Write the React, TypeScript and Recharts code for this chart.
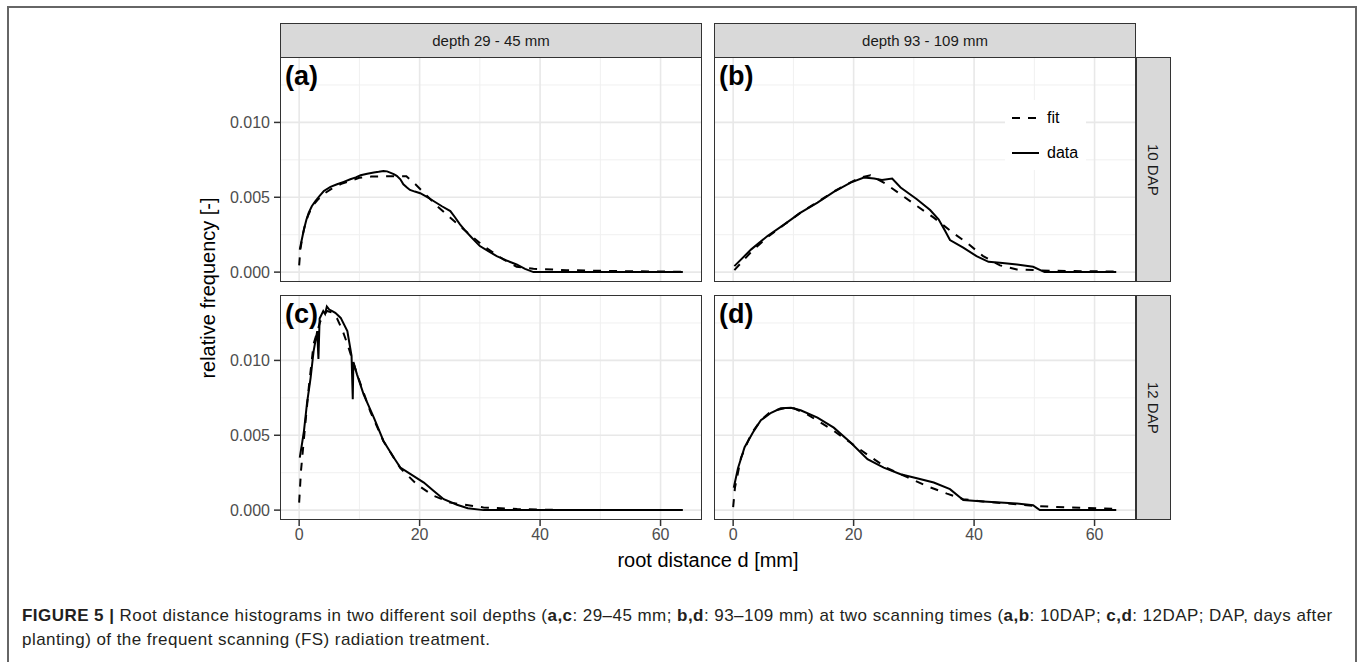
import React from 'react'
import { LineChart, Line, XAxis, YAxis, ReferenceLine, Legend } from 'recharts'

const FONT = '"Liberation Sans", Arial, Helvetica, sans-serif'

// axis set-up
const X_DOMAIN = [-3.18, 66.88]
const Y_DOMAIN = [-0.00066, 0.01437]
const X_TICKS = [0, 20, 40, 60]
const X_MINOR = [10, 30, 50]
const Y_TICKS = [0, 0.005, 0.01]
const Y_MINOR = [0.0025, 0.0075, 0.0125]

const COL_LABELS = ['depth 29 - 45 mm', 'depth 93 - 109 mm']
const ROW_LABELS = ['10 DAP', '12 DAP']
const PANEL_LABELS = ['(a)', '(b)', '(c)', '(d)']
const LEGEND_ORDER = ['fit', 'data']

// (a) depth 29-45 mm, 10 DAP
const A_DATA_X = [0.1, 0.4, 0.8, 1.2, 1.6, 2.1, 2.7, 3.4, 4.1, 5.2, 6.3, 7.4, 8.5, 9.4, 10.2, 11.3, 12.4, 13.2, 14.0, 14.6, 15.1, 15.7, 16.2, 16.8, 17.3, 17.9, 18.4, 19.2, 20.1, 21.2, 22.3, 23.7, 25.1, 25.9, 26.7, 27.5, 28.4, 29.2, 30.0, 31.4, 32.8, 34.4, 36.1, 37.5, 38.9, 45, 55, 63.7]
const A_DATA_Y = [0.0015, 0.0021, 0.00286, 0.0035, 0.00397, 0.0044, 0.00475, 0.0051, 0.00542, 0.0057, 0.00587, 0.00603, 0.0062, 0.00633, 0.00647, 0.00657, 0.00665, 0.0067, 0.00676, 0.00673, 0.00665, 0.00655, 0.00643, 0.0062, 0.00587, 0.00565, 0.00549, 0.00538, 0.00527, 0.00503, 0.00475, 0.0044, 0.00408, 0.00365, 0.00319, 0.0028, 0.00241, 0.00207, 0.00174, 0.0014, 0.00107, 0.00078, 0.00051, 0.00022, 0, 0, 0, 0]
const A_FIT_X = [0, 0.2, 0.6, 1.0, 1.5, 2.2, 3.0, 4.0, 5.5, 7.0, 8.5, 10.0, 12.0, 14.0, 16.0, 17.8, 19.3, 20.7, 22.9, 25.1, 27.3, 30.6, 33.9, 36.1, 38.9, 44.4, 52.7, 63.7]
const A_FIT_Y = [0.00045, 0.0015, 0.0025, 0.0032, 0.0038, 0.0044, 0.0048, 0.0052, 0.0056, 0.0059, 0.0061, 0.0063, 0.00638, 0.0064, 0.0064, 0.0064, 0.00587, 0.00531, 0.00442, 0.00364, 0.00286, 0.00174, 0.00085, 0.00036, 0.00022, 0.00013, 0.00007, 0.00002]

// (b) depth 93-109 mm, 10 DAP
const B_DATA_X = [0.2, 3.0, 5.7, 8.5, 11.2, 14.0, 16.7, 19.5, 21.7, 23.4, 24.7, 26.4, 27.8, 30.5, 32.7, 34.1, 35.2, 36.0, 38.2, 40.4, 42.4, 44.3, 47.1, 49.8, 51.7, 57, 63.6]
const B_DATA_Y = [0.0004, 0.00152, 0.00241, 0.00319, 0.00397, 0.00464, 0.00536, 0.00598, 0.00632, 0.00625, 0.00616, 0.00625, 0.00565, 0.00487, 0.00415, 0.00353, 0.00275, 0.00214, 0.00163, 0.00107, 0.00069, 0.00063, 0.00051, 0.00036, 0, 0, 0]
const B_FIT_X = [0.2, 3.0, 5.7, 8.5, 11.2, 14.0, 16.7, 19.5, 21.2, 22.8, 25.0, 27.8, 30.5, 33.3, 36.6, 38.8, 41.5, 44.3, 47.1, 52.6, 63.6]
const B_FIT_Y = [0.00013, 0.00135, 0.00235, 0.00318, 0.00398, 0.00468, 0.00538, 0.006, 0.00632, 0.00647, 0.00598, 0.0052, 0.00442, 0.00364, 0.00259, 0.00196, 0.00107, 0.00045, 0.00018, 0.00009, 0.00004]

// (c) depth 29-45 mm, 12 DAP
const C_DATA_X = [0.1, 0.5, 0.8, 1.3, 1.9, 2.4, 3.0, 3.2, 3.4, 4.0, 4.3, 4.6, 5.0, 5.5, 6.0, 6.9, 8.0, 8.7, 8.9, 9.0, 9.6, 10.7, 12.4, 14.0, 15.7, 16.8, 18.5, 20.7, 22.3, 24.0, 26.2, 28.0, 30.6, 40, 50, 63.7]
const C_DATA_Y = [0.00351, 0.0045, 0.0053, 0.00713, 0.00884, 0.01062, 0.01196, 0.0101, 0.0128, 0.0133, 0.0131, 0.0136, 0.0134, 0.0133, 0.01318, 0.01284, 0.01196, 0.0103, 0.0074, 0.0099, 0.00907, 0.00773, 0.00618, 0.00462, 0.00351, 0.00284, 0.0024, 0.00184, 0.00129, 0.00073, 0.00036, 0.00012, 0, 0, 0, 0]
const C_FIT_X = [0, 0.3, 0.8, 1.6, 2.4, 3.5, 4.6, 5.5, 6.3, 7.2, 8.0, 9.6, 11.8, 14.0, 16.8, 19.6, 22.3, 25.1, 30.6, 36.2, 41.7, 50, 63.7]
const C_FIT_Y = [0.0005, 0.0026, 0.0048, 0.0082, 0.0111, 0.0126, 0.0133, 0.0132, 0.0128, 0.012, 0.0111, 0.0091, 0.0066, 0.0046, 0.0028, 0.0017, 0.00096, 0.0005, 0.00018, 0.00007, 0.00002, 0, 0]

// (d) depth 93-109 mm, 12 DAP
const D_DATA_X = [0.1, 0.8, 1.9, 3.3, 4.6, 6.3, 7.9, 9.6, 11.2, 14.0, 16.7, 19.5, 22.3, 25.0, 27.8, 30.5, 33.3, 36.0, 38.2, 41.5, 44.3, 47.1, 49.8, 50.9, 57, 63.6]
const D_DATA_Y = [0.0015, 0.0028, 0.0042, 0.0052, 0.006, 0.0065, 0.0068, 0.00684, 0.00667, 0.00618, 0.00551, 0.00451, 0.0034, 0.00284, 0.0024, 0.00213, 0.00184, 0.0014, 0.00067, 0.00058, 0.00051, 0.00044, 0.00033, 0, 0, 0]
const D_FIT_X = [0, 0.3, 1.3, 3.0, 4.6, 6.3, 8.5, 10.1, 12.3, 16.7, 19.5, 22.3, 25.6, 28.9, 32.2, 35.5, 38.2, 41.5, 49.8, 55.3, 63.6]
const D_FIT_Y = [0.0002, 0.0015, 0.0035, 0.0051, 0.006, 0.0066, 0.0068, 0.0068, 0.0064, 0.0053, 0.0045, 0.0037, 0.0028, 0.0022, 0.0016, 0.0011, 0.00073, 0.00058, 0.00029, 0.00018, 0.00009]

const zip = (xs: number[], ys: number[]) => xs.map((x, i) => ({ x, y: ys[i] }))

const PANELS = [
  { fit: zip(A_FIT_X, A_FIT_Y), data: zip(A_DATA_X, A_DATA_Y) },
  { fit: zip(B_FIT_X, B_FIT_Y), data: zip(B_DATA_X, B_DATA_Y) },
  { fit: zip(C_FIT_X, C_FIT_Y), data: zip(C_DATA_X, C_DATA_Y) },
  { fit: zip(D_FIT_X, D_FIT_Y), data: zip(D_DATA_X, D_DATA_Y) },
]

const PANEL_W = 422
const PANEL_H = 225
const COL_LEFT = [280, 714]
const ROW_TOP = [57, 295]
const Y_AXIS_W = 60
const X_AXIS_H = 32
const DASH = '8 8'

const tickStyle = { fontSize: 16, fill: '#4d4d4d', fontFamily: FONT }

function renderLegend(props: any) {
  const payload = [...(props.payload || [])].sort(
    (a: any, b: any) => LEGEND_ORDER.indexOf(a.value) - LEGEND_ORDER.indexOf(b.value)
  )
  return (
    <div style={{ background: '#fff', padding: '0 8px 0 7px', fontFamily: FONT }}>
      {payload.map((entry: any) => {
        const dash = entry.payload?.strokeDasharray ?? (entry.value === 'fit' ? DASH : undefined)
        return (
          <div key={entry.value} style={{ display: 'flex', alignItems: 'center', height: 35 }}>
            <svg width={27} height={4} style={{ display: 'block' }}>
              <line x1={0} y1={2} x2={27} y2={2} stroke="#000" strokeWidth={2} strokeDasharray={dash} />
            </svg>
            <span style={{ marginLeft: 8, fontSize: 16, color: '#000' }}>{entry.value}</span>
          </div>
        )
      })}
    </div>
  )
}

function Panel({ idx }: { idx: number }) {
  const row = Math.floor(idx / 2)
  const col = idx % 2
  const showY = col === 0
  const showX = row === 1
  const yw = showY ? Y_AXIS_W : 0
  const xh = showX ? X_AXIS_H : 0
  const left = COL_LEFT[col]
  const top = ROW_TOP[row]
  const p = PANELS[idx]
  return (
    <>
      <div style={{ position: 'absolute', left: left - yw, top }}>
        <LineChart width={PANEL_W + yw} height={PANEL_H + xh} margin={{ top: 0, right: 0, bottom: 0, left: 0 }}>
          <XAxis
            type="number"
            dataKey="x"
            domain={X_DOMAIN}
            allowDataOverflow
            ticks={X_TICKS}
            interval={0}
            hide={!showX}
            height={X_AXIS_H}
            axisLine={false}
            tickSize={6}
            tickMargin={3}
            tickLine={{ stroke: '#333', strokeWidth: 1.5 }}
            tick={tickStyle}
          />
          <YAxis
            type="number"
            dataKey="y"
            domain={Y_DOMAIN}
            allowDataOverflow
            ticks={Y_TICKS}
            interval={0}
            hide={!showY}
            width={Y_AXIS_W}
            axisLine={false}
            tickSize={6}
            tickMargin={4}
            tickLine={{ stroke: '#333', strokeWidth: 1.5 }}
            tick={tickStyle}
            tickFormatter={(v: number) => v.toFixed(3)}
          />
          {X_MINOR.map((v) => (
            <ReferenceLine key={'xm' + v} x={v} stroke="#f0f0f0" strokeWidth={1} />
          ))}
          {Y_MINOR.map((v) => (
            <ReferenceLine key={'ym' + v} y={v} stroke="#f0f0f0" strokeWidth={1} />
          ))}
          {X_TICKS.map((v) => (
            <ReferenceLine key={'x' + v} x={v} stroke="#e8e8e8" strokeWidth={1.6} />
          ))}
          {Y_TICKS.map((v) => (
            <ReferenceLine key={'y' + v} y={v} stroke="#e8e8e8" strokeWidth={1.6} />
          ))}
          <Line
            data={p.fit}
            dataKey="y"
            name="fit"
            type="linear"
            stroke="#000"
            strokeWidth={2}
            strokeDasharray={DASH}
            dot={false}
            activeDot={false}
            isAnimationActive={false}
          />
          <Line
            data={p.data}
            dataKey="y"
            name="data"
            type="linear"
            stroke="#000"
            strokeWidth={2}
            dot={false}
            activeDot={false}
            isAnimationActive={false}
          />
          {idx === 1 && (
            <Legend
              layout="vertical"
              align="center"
              verticalAlign="middle"
              content={renderLegend}
              wrapperStyle={{ left: 291, top: 43, width: 'auto' }}
            />
          )}
        </LineChart>
      </div>
      <div
        style={{
          position: 'absolute',
          left,
          top,
          width: PANEL_W,
          height: PANEL_H,
          border: '1.5px solid #333',
          boxSizing: 'border-box',
          pointerEvents: 'none',
        }}
      />
      <div
        style={{
          position: 'absolute',
          left: left + 5,
          top: top + 6,
          fontSize: 27,
          fontWeight: 'bold',
          lineHeight: 1,
          color: '#000',
        }}
      >
        {PANEL_LABELS[idx]}
      </div>
    </>
  )
}

export default function App() {
  return (
    <div
      style={{
        position: 'absolute',
        left: 0,
        top: 0,
        width: 1360,
        height: 662,
        overflow: 'hidden',
        background: '#fff',
        fontFamily: FONT,
      }}
    >
      <div
        style={{
          position: 'absolute',
          left: 7,
          top: 6,
          width: 1350,
          height: 700,
          border: '2px solid #666',
          boxSizing: 'border-box',
        }}
      />
      {COL_LABELS.map((t, i) => (
        <div
          key={t}
          style={{
            position: 'absolute',
            left: COL_LEFT[i],
            top: 23,
            width: PANEL_W,
            height: 35,
            background: '#d9d9d9',
            border: '1.5px solid #333',
            boxSizing: 'border-box',
            display: 'flex',
            alignItems: 'center',
            justifyContent: 'center',
            fontSize: 15,
            color: '#1a1a1a',
          }}
        >
          {t}
        </div>
      ))}
      {ROW_LABELS.map((t, i) => (
        <div
          key={t}
          style={{
            position: 'absolute',
            left: 1136,
            top: ROW_TOP[i],
            width: 35,
            height: PANEL_H,
            background: '#d9d9d9',
            border: '1.5px solid #333',
            boxSizing: 'border-box',
            display: 'flex',
            alignItems: 'center',
            justifyContent: 'center',
            fontSize: 15,
            color: '#1a1a1a',
            writingMode: 'vertical-rl',
          }}
        >
          {t}
        </div>
      ))}
      {[0, 1, 2, 3].map((i) => (
        <Panel key={i} idx={i} />
      ))}
      <div
        style={{
          position: 'absolute',
          left: 208 - 150,
          top: 288 - 12,
          width: 300,
          height: 24,
          lineHeight: '24px',
          textAlign: 'center',
          fontSize: 20,
          color: '#000',
          transform: 'rotate(-90deg)',
          whiteSpace: 'nowrap',
        }}
      >
        relative frequency [-]
      </div>
      <div
        style={{
          position: 'absolute',
          left: 708 - 200,
          top: 548,
          width: 400,
          height: 24,
          lineHeight: '24px',
          textAlign: 'center',
          fontSize: 20,
          color: '#000',
          whiteSpace: 'nowrap',
        }}
      >
        root distance d [mm]
      </div>
      <div
        style={{
          position: 'absolute',
          left: 22,
          top: 604,
          fontSize: 17,
          letterSpacing: 0.45,
          lineHeight: '24px',
          color: '#231f20',
          whiteSpace: 'nowrap',
        }}
      >
        <div>
          <b>FIGURE 5 |</b> Root distance histograms in two different soil depths (<b>a,c</b>: 29–45 mm;{' '}
          <b>b,d</b>: 93–109 mm) at two scanning times (<b>a,b</b>: 10DAP; <b>c,d</b>: 12DAP; DAP, days after
        </div>
        <div>planting) of the frequent scanning (FS) radiation treatment.</div>
      </div>
    </div>
  )
}
